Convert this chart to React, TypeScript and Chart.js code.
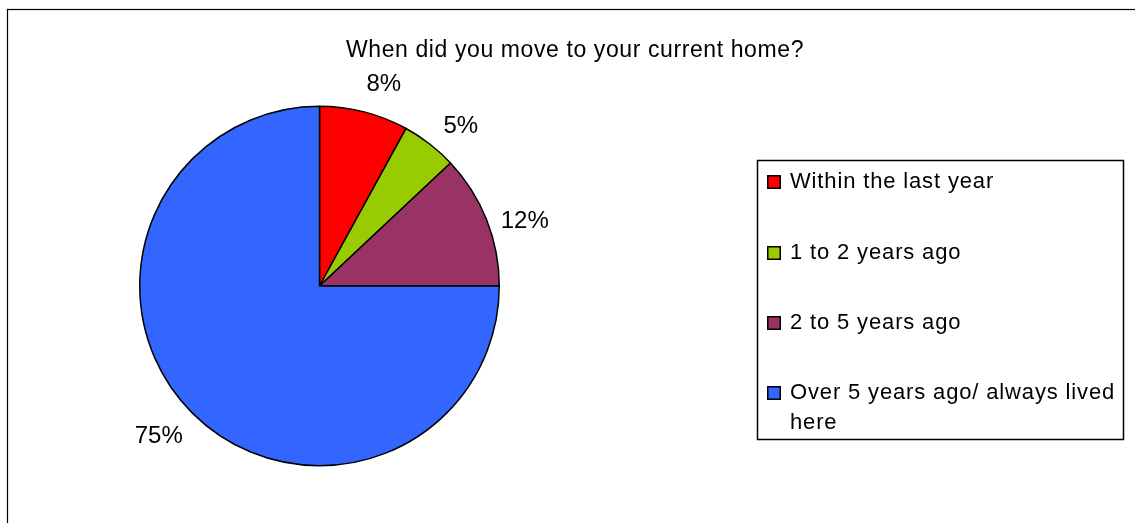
import React, { useEffect, useRef } from "react";
import { Chart, registerables } from "chart.js";

Chart.register(...registerables);

const titleText = "When did you move to your current home?";
const categories = [
  "Within the last year",
  "1 to 2 years ago",
  "2 to 5 years ago",
  "Over 5 years ago/ always lived here",
];
const values = [8, 5, 12, 75];
const colors = ["#FF0000", "#99CC00", "#993366", "#3366FF"];

const FONT = '"Liberation Sans", Arial, sans-serif';

const decorPlugin = {
  id: "decor",
  beforeDraw(chart: any) {
    const ctx = chart.ctx;
    ctx.save();
    ctx.fillStyle = "#ffffff";
    ctx.fillRect(0, 0, chart.width, chart.height);
    ctx.strokeStyle = "#000000";
    ctx.lineWidth = 1.2;
    ctx.strokeRect(7.5, 9.5, chart.width + 10, chart.height + 10);
    ctx.restore();
  },
  afterDraw(chart: any) {
    const ctx = chart.ctx;
    ctx.save();
    // title
    ctx.fillStyle = "#000000";
    ctx.font = `23px ${FONT}`;
    (ctx as any).letterSpacing = "0.6px";
    ctx.textAlign = "center";
    ctx.textBaseline = "middle";
    ctx.fillText(titleText, 575, 51);

    // data labels
    (ctx as any).letterSpacing = "0px";
    const meta = chart.getDatasetMeta(0);
    const data = chart.data.datasets[0].data as number[];
    const total = data.reduce((a, b) => a + b, 0);
    ctx.font = `24px ${FONT}`;
    meta.data.forEach((arc: any, i: number) => {
      const p = arc.getProps(["x", "y", "startAngle", "endAngle", "outerRadius"], true);
      const mid = (p.startAngle + p.endAngle) / 2 + 0.05;
      const r = p.outerRadius + 37;
      const x = p.x + r * Math.cos(mid);
      const y = p.y + r * Math.sin(mid) + 5;
      ctx.fillText(Math.round((data[i] / total) * 100) + "%", x, y);
    });

    // legend
    const lx = 757.5, ly = 160.5, lw = 366, lh = 279;
    ctx.strokeStyle = "#000000";
    ctx.lineWidth = 1.5;
    ctx.strokeRect(lx, ly, lw, lh);
    ctx.font = `22px ${FONT}`;
    (ctx as any).letterSpacing = "0.85px";
    ctx.textAlign = "left";
    ctx.textBaseline = "middle";
    const labels = chart.data.labels as string[];
    const bg = chart.data.datasets[0].backgroundColor as string[];
    const rowY = [182, 253, 323, 393];
    const maxW = 1120 - 790;
    labels.forEach((lab, i) => {
      const y = rowY[i];
      ctx.fillStyle = bg[i];
      ctx.fillRect(767, y - 7, 14, 14);
      ctx.lineWidth = 1.5;
      ctx.strokeStyle = "#000";
      ctx.strokeRect(767.75, y - 6.25, 12.5, 12.5);
      ctx.fillStyle = "#000";
      const words = lab.split(" ");
      const lines: string[] = [];
      let cur = "";
      for (const w of words) {
        const t = cur ? cur + " " + w : w;
        if (ctx.measureText(t).width > maxW && cur) {
          lines.push(cur);
          cur = w;
        } else cur = t;
      }
      if (cur) lines.push(cur);
      lines.forEach((ln, k) => ctx.fillText(ln, 790, y + k * 30));
    });
    ctx.restore();
  },
};

export default function App() {
  const ref = useRef<HTMLCanvasElement>(null);
  useEffect(() => {
    if (!ref.current) return;
    const chart = new Chart(ref.current, {
      type: "pie",
      data: {
        labels: categories,
        datasets: [
          {
            data: values,
            backgroundColor: colors,
            borderColor: "#000000",
            borderWidth: 1.5,
          },
        ],
      },
      options: {
        animation: false,
        responsive: false,
        events: [],
        layout: { padding: { left: 139, top: 105, right: 1135 - 500, bottom: 523 - 467 } },
        plugins: {
          legend: { display: false },
          title: { display: false },
          tooltip: { enabled: false },
        },
      },
      plugins: [decorPlugin],
    });
    return () => chart.destroy();
  }, []);
  return (
    <div style={{ position: "absolute", left: 0, top: 0, width: 1135, height: 523 }}>
      <canvas ref={ref} width={1135} height={523} style={{ display: "block" }} />
    </div>
  );
}
